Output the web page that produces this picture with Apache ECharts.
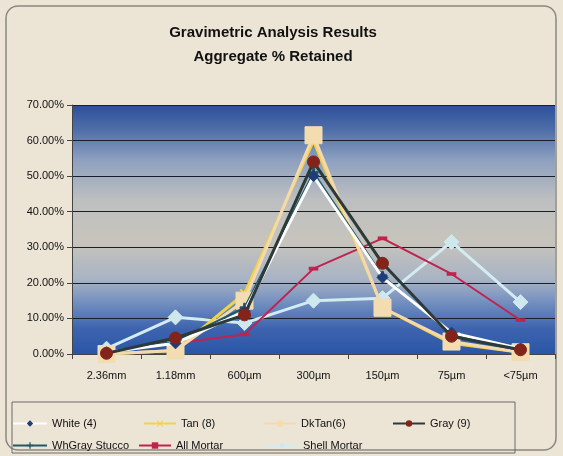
<!DOCTYPE html>
<html><head><meta charset="utf-8">
<script src="https://cdn.jsdelivr.net/npm/echarts@6/dist/echarts.min.js"></script>
<style>html,body{margin:0;padding:0;background:#ece5d6;}#c{width:563px;height:456px;}</style>
</head><body><div id="c"></div>
<script>
const categories = ['2.36mm','1.18mm','600µm','300µm','150µm','75µm','<75µm'];
const yTicks = [0,10,20,30,40,50,60,70];
const white4 = [0.5, 3.0, 12.0, 50.0, 21.5, 6.0, 1.5];
const tan8 = [0.0, 1.0, 17.0, 60.0, 13.0, 3.0, 0.5];
const dkTan6 = [0.0, 1.0, 15.0, 61.5, 13.0, 3.5, 0.5];
const gray9 = [0.2, 4.5, 11.0, 54.0, 25.5, 5.0, 1.2];
const whGrayStucco = [0.5, 3.5, 13.0, 51.0, 22.0, 5.5, 1.0];
const allMortar = [0.5, 3.0, 5.5, 24.0, 32.5, 22.5, 9.5];
const shellMortar = [1.5, 10.3, 8.7, 15.0, 15.7, 31.5, 14.6];

const chart = echarts.init(document.getElementById('c'));
const font = 'Liberation Sans, Arial, sans-serif';
const plusPath = 'path://M4,0h2v10h-2zM0,4h10v2h-10z';
const xPath = 'path://M0,1L1,0L10,9L9,10zM9,0L10,1L1,10L0,9z';
const dashPath = 'path://M0,0h10v3h-10z';
function mk(name, data, color, lw, symbol, size, symColor, z) {
  return {name, type:'line', data, z, symbol, symbolSize:size,
    lineStyle:{color, width:lw}, itemStyle:{color:symColor, borderColor:symColor},
    emphasis:{disabled:true}, animation:false};
}
const series = [
  mk('Shell Mortar', shellMortar, '#d2ecf2', 3, 'diamond', 15, '#cfe8ee', 2),
  mk('All Mortar', allMortar, '#c0234e', 2, dashPath, [8,3], '#c0234e', 3),
  mk('Tan (8)', tan8, '#f2d24a', 3, xPath, 9, '#f2d24a', 4),
  mk('DkTan(6)', dkTan6, '#f4d9ae', 3, 'rect', 17, '#f3dcb0', 5),
  mk('WhGray Stucco', whGrayStucco, '#1f5a66', 2, plusPath, 9, '#1f5a66', 6),
  mk('White (4)', white4, '#ffffff', 3, 'diamond', 11, '#1e3c7a', 7),
  mk('Gray (9)', gray9, '#2c3a3a', 3, 'circle', 12, '#82241a', 8)
];
const legendItems = [
  ['White (4)', 12, 34, 418], ['Tan (8)', 143, 32, 418], ['DkTan(6)', 263, 32, 418], ['Gray (9)', 392, 32, 418],
  ['WhGray Stucco', 12, 34, 440], ['All Mortar', 138, 32, 440], ['Shell Mortar', 265, 32, 440]
];
const legends = legendItems.map(([n,l,w,t]) => ({
  data:[n], left:l, top:t, itemWidth:w, itemHeight:8, itemGap:4, padding:0,
  textStyle:{fontFamily:font, fontSize:11, color:'#111'}, selectedMode:false
}));
chart.setOption({
  backgroundColor:'#ece5d6',
  animation:false,
  graphic:[
    {type:'rect', shape:{x:6,y:6,width:550,height:444,r:12}, style:{fill:'none', stroke:'#8a8880', lineWidth:1.5}, z:-1},
    {type:'rect', shape:{x:12,y:402,width:503,height:51}, style:{fill:'none', stroke:'#6a6a66', lineWidth:1}, z:-1}
  ],
  title:{text:'Gravimetric Analysis Results\nAggregate % Retained', left:268, textAlign:'center', top:16,
    textStyle:{fontFamily:font, fontSize:15, fontWeight:'bold', color:'#111', lineHeight:24}},
  legend: legends,
  grid:{left:72, right:8, top:105, bottom:102, containLabel:false,
    show:true, borderWidth:0,
    backgroundColor:{type:'linear', x:0,y:0,x2:0,y2:1, colorStops:[
      {offset:0, color:'#2b4f9c'}, {offset:0.1, color:'#4f6ea8'}, {offset:0.22, color:'#8da0bf'},
      {offset:0.38, color:'#bdbfc0'}, {offset:0.55, color:'#c7c4bc'}, {offset:0.7, color:'#a8b3c4'},
      {offset:0.8, color:'#6f8cbf'}, {offset:0.9, color:'#3d63ae'}, {offset:1, color:'#2a56a8'}]}},
  xAxis:{type:'category', data:categories, boundaryGap:true,
    axisLine:{lineStyle:{color:'#444', width:1}}, axisTick:{show:true, lineStyle:{color:'#444'}},
    axisLabel:{fontFamily:font, fontSize:11, color:'#111', margin:16}},
  yAxis:{type:'value', min:0, max:70, interval:10,
    axisLine:{show:true, lineStyle:{color:'#444'}}, axisTick:{show:true, lineStyle:{color:'#444'}},
    splitLine:{lineStyle:{color:'#1a1f2a', width:1}},
    axisLabel:{fontFamily:font, fontSize:11, color:'#111', margin:8,
      formatter: v => yTicks.includes(v) ? v.toFixed(2) + '%' : ''}},
  series
});
</script></body></html>
